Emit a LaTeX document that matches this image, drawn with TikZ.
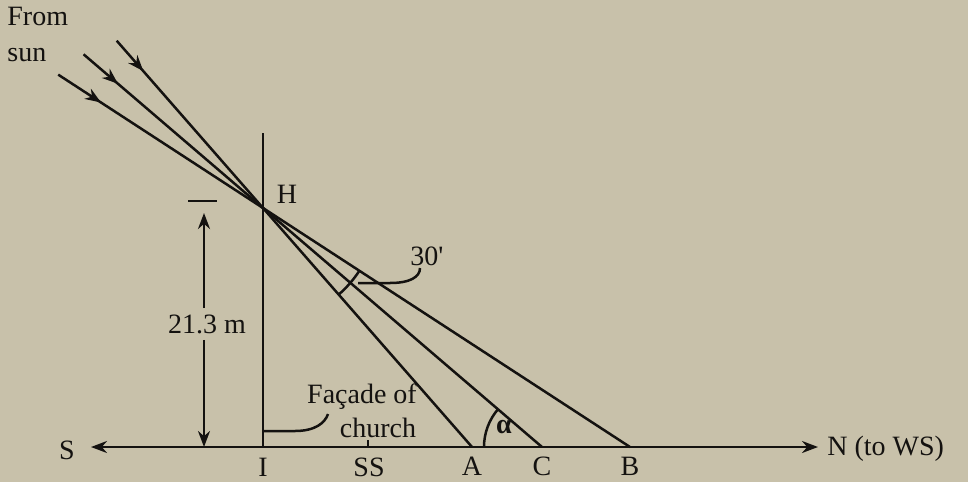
\documentclass[tikz,border=0pt]{standalone}
\usepackage{fontspec}
\setmainfont{Liberation Serif}
\usetikzlibrary{calc,arrows.meta,decorations.markings}
\definecolor{paper}{RGB}{200,193,170}
\definecolor{ink}{RGB}{20,18,16}
\tikzset{
  ln/.style={line width=1.25pt, draw=ink},
  lbl/.style={text=ink, font=\fontsize{14}{16}\selectfont, inner sep=0pt},
  tip/.style={-{Stealth[length=8pt,width=6pt]}},
  sunray/.style={ln, postaction={decorate}, decoration={markings,
     mark=at position 0.075 with {\arrow{Stealth[length=8pt,width=6pt]}}}},
}
\begin{document}
\begin{tikzpicture}[x=0.5pt,y=-0.5pt]
\fill[paper] (0,0) rectangle (968,482);
\useasboundingbox (0,0) rectangle (968,482);
% points
\coordinate (H) at (263,208);
\coordinate (I) at (263,447);
\coordinate (Top) at (263,133);
\coordinate (A) at (472,447);
\coordinate (C) at (542,447);
\coordinate (B) at (630,447);
\coordinate (SS) at (368,447);
\coordinate (Sw) at (91,447);
\coordinate (Ne) at (818,447);
\coordinate (s1) at ($(A)!1.70!(H)$);
\coordinate (s2) at ($(C)!1.643!(H)$);
\coordinate (s3) at ($(B)!1.558!(H)$);
% baseline with arrows
\draw[ln,tip] (I) -- (Sw);
\draw[ln,tip] (I) -- (Ne);
\draw[ln] (SS) -- ++(0,-7);
% facade
\draw[ln] (I) -- (Top);
% sun rays
\draw[sunray] (s1) -- (A);
\draw[sunray] (s2) -- (C);
\draw[sunray] (s3) -- (B);
% 30' arc
\draw[ln] ($(H)+(48.7:115)$) arc[start angle=48.7, end angle=33, radius=115];
% alpha arc
\draw[ln] ($(C)+(-58,0)$) arc[start angle=180, end angle=220.5, radius=58];
% dimension
\coordinate (dimtop) at (204,213);
\coordinate (dimbot) at (204,447);
\draw[ln] (188,201) -- (217,201);
\node[lbl] (dim) at (207,324) {21.3 m};
\draw[ln,tip] (dim.north -| dimtop) ++(0,-6) -- (dimtop);
\draw[ln,tip] (dim.south -| dimbot) ++(0,6) -- (dimbot);
% labels
\node[lbl, anchor=north west, align=left] (sun) at (7,7) {From\\[2pt]sun};
\node[lbl] (Hl) at (287,194) {H};
\node[lbl] (thirty) at (427,256) {30\textquotesingle};
\node[lbl] (alpha) at (504,427) {\bfseries α};
\node[lbl, align=center] (fac) at (362,411) {Façade of\\[1pt]\hspace*{16pt}church};
\node[lbl] (Sl) at (67,450) {S};
\node[lbl, anchor=west] (Nl) at (827,449) {N (to WS)};
\node[lbl] (Il) at (263,467) {I};
\node[lbl] (SSl) at (369,467) {SS};
\node[lbl] (Al) at (472,466) {A};
\node[lbl] (Cl) at (542,466) {C};
\node[lbl] (Bl) at (630,466) {B};
% leaders
\draw[ln] (263,431) -- (295,431) .. controls (315,431) and (325,423) .. (328,414);
\draw[ln] (358,283) -- (390,283) .. controls (410,283) and (420,277) .. (420,268);
\end{tikzpicture}
\end{document}
